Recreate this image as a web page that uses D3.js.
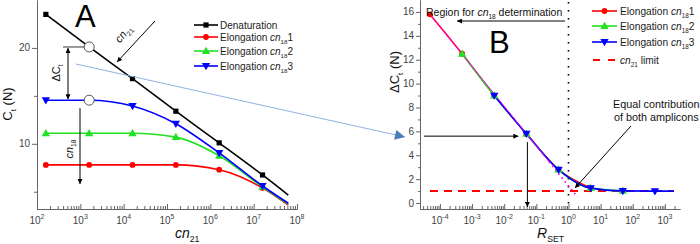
<!DOCTYPE html>
<html>
<head>
<meta charset="utf-8">
<script src="https://cdn.jsdelivr.net/npm/d3@7"></script>
<style>
body { margin: 0; background: #fff; }
svg { display: block; font-family: "Liberation Sans", Arial, sans-serif; }
</style>
</head>
<body>
<script>
// ---- panel A: Ct vs cn21 ----
const cn21 = [1.6e2, 1.6e3, 1.6e4, 1.6e5, 1.6e6, 1.6e7];
const ctDenat  = [23.5, 20.1, 16.8, 13.4, 10.1, 6.75];
const ctElong1 = [7.8, 7.8, 7.8, 7.8, 7.3, 5.4];
const ctElong2 = [11.1, 11.1, 11.1, 10.7, 8.75, 5.5];
const ctElong3 = [14.55, 14.55, 13.95, 12.1, 9.05, 5.6];
// fitted lines run a bit past the last marker
const cn21End = 6.3e7;
const ctEndA = [4.65, 3.6, 3.7, 3.8];
const xTicksA = [1e2, 1e3, 1e4, 1e5, 1e6, 1e7, 1e8];

// ---- panel B: delta Ct vs R_SET ----
const rRed   = [4.9e-5, 4.9e-4, 4.9e-3, 4.9e-2, 0.49, 4.9];
const rGreen = [4.9e-4, 4.9e-3, 4.9e-2, 0.49, 4.9, 49];
const rBlue  = [4.9e-3, 4.9e-2, 0.49, 4.9, 49, 490];
const dRed   = [15.8, 12.5, 9.0, 5.8, 2.8, 1.25];
const dGreen = [12.5, 9.0, 5.8, 2.8, 1.25, 1.02];
const dBlue  = [9.0, 5.8, 2.8, 1.25, 1.02, 1.0];
const rBlueEnd = 1.9e3;
const cn21Limit = 1.0;
const asymR = [4.9e-5, 0.25, 1.9];
const asymD = [15.8, 3.45, 0.5];
const xTicksB = [1e-4, 1e-3, 1e-2, 1e-1, 1e0, 1e1, 1e2, 1e3];
const yTicksB = [0, 2, 4, 6, 8, 10, 12, 14, 16];

const svg = d3.select("body").append("svg")
    .attr("width", 700)
    .attr("height", 244);

const defs = svg.append("defs");
function arrowDef(id, color, w, h) {
    defs.append("marker")
        .attr("id", id)
        .attr("markerUnits", "userSpaceOnUse")
        .attr("viewBox", "0 0 10 10")
        .attr("refX", 10).attr("refY", 5)
        .attr("markerWidth", w).attr("markerHeight", h)
        .attr("orient", "auto-start-reverse")
        .append("path")
        .attr("d", "M0,0L10,5L0,10z")
        .attr("fill", color);
}
arrowDef("ah", "#000", 7, 5);
arrowDef("ahBlue", "#4a7ebb", 12, 10);

const axisColor = "#666";
const tickText = "#444";

function minorTicks(lo, hi) {
    let out = [];
    for (let e = lo; e < hi; e++) {
        for (let m = 2; m <= 9; m++) out.push(m * Math.pow(10, e));
    }
    return out;
}

function styleAxis(g) {
    g.selectAll("path, line").attr("stroke", axisColor);
    g.selectAll("text").remove();
}

// text with italic cn and a subscript
function richText(sel, parts, size) {
    parts.forEach(function(p) {
        let t = sel.append("tspan").text(p.t);
        if (p.i) t.attr("font-style", "italic");
        if (p.sub) t.attr("font-size", size * 0.62).attr("dy", size * 0.3);
        if (p.back) t.attr("dy", -size * 0.3);
    });
    return sel;
}

function marker(g, type, x, y, color) {
    if (type === "square") {
        g.append("rect").attr("x", x - 2.6).attr("y", y - 2.6)
            .attr("width", 5.2).attr("height", 5.2).attr("fill", color);
    } else if (type === "circle") {
        g.append("circle").attr("cx", x).attr("cy", y).attr("r", 2.9).attr("fill", color);
    } else {
        g.append("path")
            .attr("d", d3.symbol(d3.symbolTriangle).size(30)())
            .attr("transform", "translate(" + x + "," + (type === "up" ? y + 0.5 : y - 0.5) + ")" + (type === "down" ? " rotate(180)" : ""))
            .attr("fill", color);
    }
}

function supLabel(g, x, y, exp) {
    let t = g.append("text").attr("x", x).attr("y", y)
        .attr("text-anchor", "middle").attr("font-size", 10).attr("fill", tickText);
    t.append("tspan").text("10");
    t.append("tspan").text(exp).attr("font-size", 7).attr("dy", -5);
}

// ================= Panel A =================
const xA = d3.scaleLog().domain([1e2, 1e8]).range([37, 297]);
const yA = d3.scaleLinear().domain([3.2, 25]).range([209, 0]);

const gA = svg.append("g");

gA.append("g").attr("transform", "translate(0,209)")
    .call(d3.axisBottom(xA).tickValues(xTicksA).tickSize(-5).tickSizeOuter(0).tickFormat(""))
    .call(styleAxis);
gA.append("g").attr("transform", "translate(0,209)")
    .call(d3.axisBottom(xA).tickValues(minorTicks(2, 8)).tickSize(-3).tickSizeOuter(0).tickFormat(""))
    .call(styleAxis);
gA.append("g").attr("transform", "translate(37,0)")
    .call(d3.axisLeft(yA).tickValues([10, 20]).tickSize(5).tickSizeOuter(0).tickFormat(""))
    .call(styleAxis);
gA.append("g").attr("transform", "translate(37,0)")
    .call(d3.axisLeft(yA).tickValues([5, 15]).tickSize(3).tickSizeOuter(0).tickFormat(""))
    .call(styleAxis);

xTicksA.forEach(function(v) {
    supLabel(gA, xA(v), 224, String(Math.round(Math.log10(v))));
});
[10, 20].forEach(function(v) {
    gA.append("text").attr("x", 30).attr("y", yA(v) + 3.5)
        .attr("text-anchor", "end").attr("font-size", 10).attr("fill", tickText).text(v);
});

// axis titles
richText(gA.append("text").attr("transform", "translate(12,104) rotate(-90)")
    .attr("text-anchor", "middle").attr("font-size", 13).attr("fill", "#111"),
    [{t: "C"}, {t: "t", sub: true}, {t: " (N)", back: true}], 13);
richText(gA.append("text").attr("x", 175).attr("y", 238)
    .attr("font-size", 14).attr("fill", "#111"),
    [{t: "cn", i: true}, {t: "21", sub: true}], 14);

// light blue connector arrow from A to B (drawn early so curves sit on top)
svg.append("line")
    .attr("x1", 76).attr("y1", 64).attr("x2", 405).attr("y2", 137)
    .attr("stroke", "#8fb4e3").attr("stroke-width", 1)
    .attr("marker-end", "url(#ahBlue)");

const seriesA = [
    {ct: ctDenat,  end: ctEndA[0], color: "#000000", mk: "square"},
    {ct: ctElong1, end: ctEndA[1], color: "#ff0000", mk: "circle"},
    {ct: ctElong2, end: ctEndA[2], color: "#22e022", mk: "up"},
    {ct: ctElong3, end: ctEndA[3], color: "#0000ff", mk: "down"}
];

const lineA = d3.line()
    .x(function(d) { return xA(d[0]); })
    .y(function(d) { return yA(d[1]); })
    .curve(d3.curveMonotoneX);

seriesA.forEach(function(s) {
    let pts = cn21.map(function(c, i) { return [c, s.ct[i]]; });
    pts.push([cn21End, s.end]);
    gA.append("path").datum(pts).attr("d", lineA)
        .attr("fill", "none").attr("stroke", s.color).attr("stroke-width", 1.6);
    cn21.forEach(function(c, i) { marker(gA, s.mk, xA(c), yA(s.ct[i]), s.color); });
});

// delta Ct annotation
gA.append("line").attr("x1", 63).attr("x2", xA(cn21[1]))
    .attr("y1", yA(ctDenat[1])).attr("y2", yA(ctDenat[1]))
    .attr("stroke", "#000").attr("stroke-width", 0.8);
gA.append("line").attr("x1", 68).attr("x2", 68)
    .attr("y1", yA(ctDenat[1]) + 1).attr("y2", yA(ctElong3[1]) - 1)
    .attr("stroke", "#000").attr("stroke-width", 1)
    .attr("marker-start", "url(#ah)").attr("marker-end", "url(#ah)");
richText(gA.append("text").attr("transform", "translate(60,73) rotate(-90)")
    .attr("text-anchor", "middle").attr("font-size", 11).attr("fill", "#111"),
    [{t: "\u0394C"}, {t: "t", sub: true}], 11);

// open circles
[ctDenat[1], ctElong3[1]].forEach(function(v) {
    gA.append("circle").attr("cx", xA(cn21[1])).attr("cy", yA(v)).attr("r", 5)
        .attr("fill", "#fff").attr("stroke", "#555").attr("stroke-width", 1);
});

// cn18 arrow
gA.append("line").attr("x1", 80).attr("x2", 80).attr("y1", yA(ctElong3[1]) + 8).attr("y2", 184)
    .attr("stroke", "#000").attr("stroke-width", 1).attr("marker-end", "url(#ah)");
richText(gA.append("text").attr("transform", "translate(73,149) rotate(-90)")
    .attr("text-anchor", "middle").attr("font-size", 11).attr("fill", "#111"),
    [{t: "cn", i: true}, {t: "18", sub: true}], 11);

// cn21 arrow
gA.append("line").attr("x1", 155).attr("y1", 21).attr("x2", 117).attr("y2", 62)
    .attr("stroke", "#000").attr("stroke-width", 1).attr("marker-end", "url(#ah)");
richText(gA.append("text").attr("transform", "translate(126,36) rotate(-52)")
    .attr("text-anchor", "middle").attr("font-size", 11).attr("fill", "#111"),
    [{t: "cn", i: true}, {t: "21", sub: true}], 11);

gA.append("text").attr("x", 75).attr("y", 27).attr("font-size", 31).attr("fill", "#000").text("A");

// legend A
const legA = [
    {parts: [{t: "Denaturation"}], y: 25},
    {parts: [{t: "Elongation "}, {t: "cn", i: true}, {t: "18", sub: true}, {t: "1", back: true}], y: 37},
    {parts: [{t: "Elongation "}, {t: "cn", i: true}, {t: "18", sub: true}, {t: "2", back: true}], y: 51},
    {parts: [{t: "Elongation "}, {t: "cn", i: true}, {t: "18", sub: true}, {t: "3", back: true}], y: 66}
];
legA.forEach(function(l, i) {
    let s = seriesA[i];
    gA.append("line").attr("x1", 194).attr("x2", 218).attr("y1", l.y).attr("y2", l.y)
        .attr("stroke", s.color).attr("stroke-width", 1.6);
    marker(gA, s.mk, 206, l.y, s.color);
    richText(gA.append("text").attr("x", 220).attr("y", l.y + 4)
        .attr("font-size", 10).attr("fill", "#222"), l.parts, 10);
});

// ================= Panel B =================
const xB = d3.scaleLog().domain([Math.pow(10, -4.62), Math.pow(10, 3.47)]).range([420, 680]);
const yB = d3.scaleLinear().domain([-0.5, 17]).range([209, 0]);

const gB = svg.append("g");

gB.append("g").attr("transform", "translate(0,209)")
    .call(d3.axisBottom(xB).tickValues(xTicksB).tickSize(-5).tickSizeOuter(0).tickFormat(""))
    .call(styleAxis);
gB.append("g").attr("transform", "translate(0,209)")
    .call(d3.axisBottom(xB).tickValues(minorTicks(-5, 4).filter(function(v) {
        return v >= xB.domain()[0] && v <= xB.domain()[1];
    })).tickSize(-3).tickSizeOuter(0).tickFormat(""))
    .call(styleAxis);
gB.append("g").attr("transform", "translate(420,0)")
    .call(d3.axisLeft(yB).tickValues(yTicksB).tickSize(4).tickSizeOuter(0).tickFormat(""))
    .call(styleAxis);
gB.append("g").attr("transform", "translate(420,0)")
    .call(d3.axisLeft(yB).tickValues(d3.range(1, 17, 2)).tickSize(2).tickSizeOuter(0).tickFormat(""))
    .call(styleAxis);

xTicksB.forEach(function(v) {
    supLabel(gB, xB(v), 224, String(Math.round(Math.log10(v))));
});
yTicksB.forEach(function(v) {
    gB.append("text").attr("x", 414).attr("y", yB(v) + 3.5)
        .attr("text-anchor", "end").attr("font-size", 10).attr("fill", tickText).text(v);
});

richText(gB.append("text").attr("transform", "translate(399,72) rotate(-90)")
    .attr("text-anchor", "middle").attr("font-size", 13).attr("fill", "#111"),
    [{t: "\u0394C"}, {t: "t", sub: true}, {t: " (N)", back: true}], 13);
richText(gB.append("text").attr("x", 537).attr("y", 238)
    .attr("font-size", 14).attr("fill", "#111"),
    [{t: "R", i: true}, {t: "SET", sub: true}], 14);

// vertical dotted line at R = 1
gB.append("line").attr("x1", xB(1)).attr("x2", xB(1)).attr("y1", 2).attr("y2", 209)
    .attr("stroke", "#000").attr("stroke-width", 1.6).attr("stroke-dasharray", "1.4,6.6");

const lineB = d3.line()
    .x(function(d) { return xB(d[0]); })
    .y(function(d) { return yB(d[1]); })
    .curve(d3.curveMonotoneX);

// cn21 limit
gB.append("line").attr("x1", xB(rRed[0])).attr("x2", xB(rBlueEnd))
    .attr("y1", yB(cn21Limit)).attr("y2", yB(cn21Limit))
    .attr("stroke", "#ff0000").attr("stroke-width", 2).attr("stroke-dasharray", "8,6");

const seriesB = [
    {r: rRed, d: dRed, color: "#ff0000", mk: "circle"},
    {r: rGreen, d: dGreen, color: "#22e022", mk: "up"},
    {r: rBlue, d: dBlue, color: "#0000ff", mk: "down"}
];
seriesB.forEach(function(s, k) {
    let pts = s.r.map(function(r, i) { return [r, s.d[i]]; });
    if (k === 2) pts.push([rBlueEnd, cn21Limit]);
    gB.append("path").datum(pts).attr("d", lineB)
        .attr("fill", "none").attr("stroke", s.color).attr("stroke-width", 1.6);
});

// magenta asymptote, solid then dotted
gB.append("path").datum([[asymR[0], asymD[0]], [asymR[1], asymD[1]]]).attr("d", lineB)
    .attr("fill", "none").attr("stroke", "#ff00ff").attr("stroke-width", 1);
gB.append("path").datum([[asymR[1], asymD[1]], [asymR[2], asymD[2]]]).attr("d", lineB)
    .attr("fill", "none").attr("stroke", "#ff00ff").attr("stroke-width", 1.8)
    .attr("stroke-dasharray", "1.5,3.5");

seriesB.forEach(function(s) {
    s.r.forEach(function(r, i) { marker(gB, s.mk, xB(r), yB(s.d[i]), s.color); });
});

// arrows reading off the 4th point
gB.append("line").attr("x1", 424).attr("x2", xB(rBlue[1]) - 8)
    .attr("y1", yB(5.6)).attr("y2", yB(5.6))
    .attr("stroke", "#000").attr("stroke-width", 1).attr("marker-end", "url(#ah)");
gB.append("line").attr("x1", xB(rBlue[1]) + 1).attr("x2", xB(rBlue[1]) + 1)
    .attr("y1", yB(5.1)).attr("y2", 207)
    .attr("stroke", "#000").attr("stroke-width", 1).attr("marker-end", "url(#ah)");

// region arrow and caption
richText(gB.append("text").attr("x", 426).attr("y", 16)
    .attr("font-size", 10.5).attr("fill", "#111"),
    [{t: "Region for "}, {t: "cn", i: true}, {t: "18", sub: true}, {t: " determination", back: true}], 10.5);
gB.append("line").attr("x1", 565).attr("x2", 457).attr("y1", 21).attr("y2", 21)
    .attr("stroke", "#000").attr("stroke-width", 1).attr("marker-end", "url(#ah)");

gB.append("text").attr("x", 489).attr("y", 53).attr("font-size", 31).attr("fill", "#000").text("B");

// equal contribution note
gB.append("text").attr("x", 613).attr("y", 108).attr("font-size", 10.8).attr("fill", "#111")
    .text("Equal contribution");
gB.append("text").attr("x", 614).attr("y", 121).attr("font-size", 10.8).attr("fill", "#111")
    .text("of both amplicons");
gB.append("line").attr("x1", 631).attr("y1", 126).attr("x2", 575).attr("y2", 188)
    .attr("stroke", "#000").attr("stroke-width", 1).attr("marker-end", "url(#ah)");

// legend B
const legB = [
    {parts: [{t: "Elongation "}, {t: "cn", i: true}, {t: "18", sub: true}, {t: "1", back: true}], y: 11},
    {parts: [{t: "Elongation "}, {t: "cn", i: true}, {t: "18", sub: true}, {t: "2", back: true}], y: 26},
    {parts: [{t: "Elongation "}, {t: "cn", i: true}, {t: "18", sub: true}, {t: "3", back: true}], y: 42},
    {parts: [{t: "cn", i: true}, {t: "21", sub: true}, {t: " limit", back: true}], y: 60}
];
legB.forEach(function(l, i) {
    if (i < 3) {
        let s = seriesB[i];
        gB.append("line").attr("x1", 592).attr("x2", 617).attr("y1", l.y).attr("y2", l.y)
            .attr("stroke", s.color).attr("stroke-width", 1.6);
        marker(gB, s.mk, 604.5, l.y, s.color);
    } else {
        gB.append("line").attr("x1", 593).attr("x2", 617).attr("y1", l.y).attr("y2", l.y)
            .attr("stroke", "#ff0000").attr("stroke-width", 2).attr("stroke-dasharray", "7,8");
    }
    richText(gB.append("text").attr("x", 620).attr("y", l.y + 4)
        .attr("font-size", 10.2).attr("fill", "#222"), l.parts, 10.2);
});
</script>
</body>
</html>
